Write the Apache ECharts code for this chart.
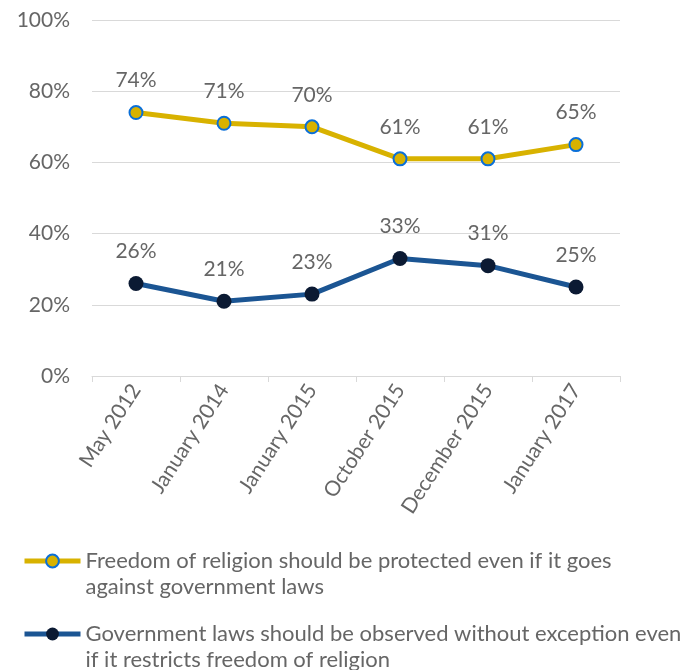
<!DOCTYPE html>
<html><head><meta charset="utf-8">
<script src="https://cdn.jsdelivr.net/npm/echarts@6/dist/echarts.min.js"></script>
<style>html,body{margin:0;padding:0;background:#fff}#c{width:688px;height:670px}</style>
</head><body><div id="c"></div>
<script>
const categories = ["May 2012","January 2014","January 2015","October 2015","December 2015","January 2017"];
const freedomValues = [74, 71, 70, 61, 61, 65];
const lawsValues = [26, 21, 23, 33, 31, 25];
const yTicks = [0, 20, 40, 60, 80, 100];
const seriesNames = [
  "Freedom of religion should be protected even if it goes against government laws",
  "Government laws should be observed without exception even if it restricts freedom of religion"
];
const legendText = {
  [seriesNames[0]]: " \nFreedom of religion should be protected even if it goes\nagainst government laws",
  [seriesNames[1]]: " \nGovernment laws should be observed without exception even\nif it restricts freedom of religion"
};
const FONT = "Lato";
const GRAY = "#666666";
const FS = 21;
const chart = echarts.init(document.getElementById('c'));
const legendBase = {
  orient: 'vertical', left: 22, padding: 0, itemWidth: 56, itemHeight: 16,
  formatter: n => legendText[n],
  lineStyle: {width: 5},
  textStyle: {fontFamily: FONT, fontSize: 22, color: GRAY, lineHeight: 26}
};
chart.setOption({
  animation: false,
  grid: {left: 92, right: 68, top: 20, bottom: 294},
  xAxis: {
    type: 'category', data: categories, boundaryGap: true,
    axisLine: {lineStyle: {color: '#d9d9d9', width: 1}},
    axisTick: {show: true, length: 6, lineStyle: {color: '#d9d9d9'}},
    axisLabel: {rotate: 57, fontFamily: FONT, fontSize: FS, color: GRAY, margin: 10}
  },
  yAxis: {
    type: 'value', min: yTicks[0], max: yTicks[yTicks.length-1], interval: 20,
    axisLine: {show: false}, axisTick: {show: false},
    splitLine: {lineStyle: {color: '#d9d9d9', width: 1}},
    axisLabel: {formatter: '{value}%', fontFamily: FONT, fontSize: FS, color: GRAY, margin: 22}
  },
  legend: [
    Object.assign({}, legendBase, {top: 522, data: [seriesNames[0]]}),
    Object.assign({}, legendBase, {top: 595, data: [seriesNames[1]]})
  ],
  series: [
    {
      name: seriesNames[0], type: 'line', data: freedomValues,
      symbol: 'circle', symbolSize: 13,
      lineStyle: {color: '#d8b200', width: 5},
      itemStyle: {color: '#d8b200', borderColor: '#0a6fd8', borderWidth: 2},
      label: {show: true, position: 'top', distance: 14, formatter: '{c}%', fontFamily: FONT, fontSize: FS, color: GRAY}
    },
    {
      name: seriesNames[1], type: 'line', data: lawsValues,
      symbol: 'circle', symbolSize: 15,
      lineStyle: {color: '#1b5593', width: 5},
      itemStyle: {color: '#0b1a33', borderColor: '#0b1a33', borderWidth: 0},
      label: {show: true, position: 'top', distance: 14, formatter: '{c}%', fontFamily: FONT, fontSize: FS, color: GRAY}
    }
  ]
});
</script></body></html>
